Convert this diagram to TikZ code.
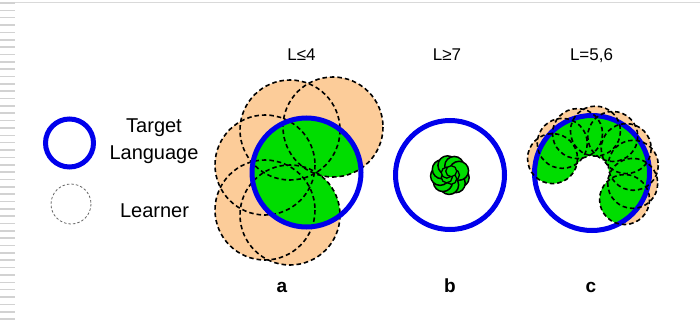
\documentclass[tikz,border=0pt]{standalone}
\usepackage{fontspec}
\setmainfont{Liberation Sans}
\definecolor{tgtblue}{RGB}{0,0,235}
\definecolor{lrngreen}{RGB}{0,221,0}
\definecolor{lrnpeach}{RGB}{252,204,153}
\begin{document}
\begin{tikzpicture}[x=1pt,y=1pt,yscale=-1,
  tgtline/.style={draw=tgtblue,line width=5pt},
  lrnline/.style={draw=black,line width=1.6pt,dash pattern=on 4.5pt off 3pt},
  lgtext/.style={font=\fontsize{20}{24}\selectfont,inner sep=0pt,anchor=base},
  toptext/.style={font=\fontsize{17}{20}\selectfont,inner sep=0pt,anchor=base},
  subtext/.style={font=\fontsize{19}{22}\selectfont\bfseries,inner sep=0pt,anchor=base}]
\useasboundingbox (0,0) rectangle (700,321);

%Frame: stripes on the left and line on top
\foreach \k in {0,...,43}
  \draw [color=gray!35,line width=1.6pt] (0,{3+7.35*\k}) -- (15,{3+7.35*\k});
\draw [color=gray!30,line width=1pt] (15,3) -- (700,3);

%Legend
\draw [tgtline] (69.5,143) circle (24);
\draw [color=gray!80!black,line width=0.8pt,dash pattern=on 2.5pt off 2pt] (71,204) circle (20);
% Text Node
\node [lgtext] (lgTarget) at (154,132.7) {Target};
\node [lgtext] (lgLanguage) at (154,159.3) {Language};
\node [lgtext] (lgLearner) at (154.5,217) {Learner};

%Panel a: L <= 4
\def\lrnA{(333,127),(290,130),(265,165),(265,210),(290,215)}
\foreach \c in \lrnA \fill [lrnpeach] \c circle (50);
\begin{scope}
  \clip (306.5,172.5) circle (54.5);
  \foreach \c in \lrnA \fill [lrngreen] \c circle (50);
\end{scope}
\foreach \c in \lrnA \draw [lrnline] \c circle (50);
\draw [tgtline] (306.5,172.5) circle (54.5);

%Panel b: L >= 7
\draw [tgtline] (450,175) circle (54.5);
\foreach \a in {0,40,...,320}
  \draw [fill=lrngreen,line width=1.5pt] ({450+10*cos(\a+15)},{175+10*sin(\a+15)}) circle (9.5);
\foreach \a in {0,72,...,288}
  \draw [fill=lrngreen,line width=1.3pt] ({450+4*cos(\a)},{175+4*sin(\a)}) circle (5.5);

%Panel c: L = 5,6
\foreach \a in {160,135.1,...,-64}
  \fill [lrnpeach] ({592+42*cos(\a)},{173-42*sin(\a)}) circle (25);
\begin{scope}
  \clip (592,173) circle (57.5);
  \foreach \a in {160,135.1,...,-64}
    \fill [lrngreen] ({592+42*cos(\a)},{173-42*sin(\a)}) circle (25);
\end{scope}
\draw [tgtline] (592,173) circle (57.5);
\foreach \a in {160,135.1,...,-64}
  \draw [lrnline] ({592+42*cos(\a)},{173-42*sin(\a)}) circle (25);

% Text Node
\node [toptext] (capA) at (301.5,60) {L≤4};
\node [toptext] (capB) at (447,60.5) {L≥7};
\node [toptext] (capC) at (591.5,60) {L=5,6};
% Text Node
\node [subtext] (subA) at (282,292.7) {a};
\node [subtext] (subB) at (450,292.7) {b};
\node [subtext] (subC) at (591,292.7) {c};

\end{tikzpicture}
\end{document}
